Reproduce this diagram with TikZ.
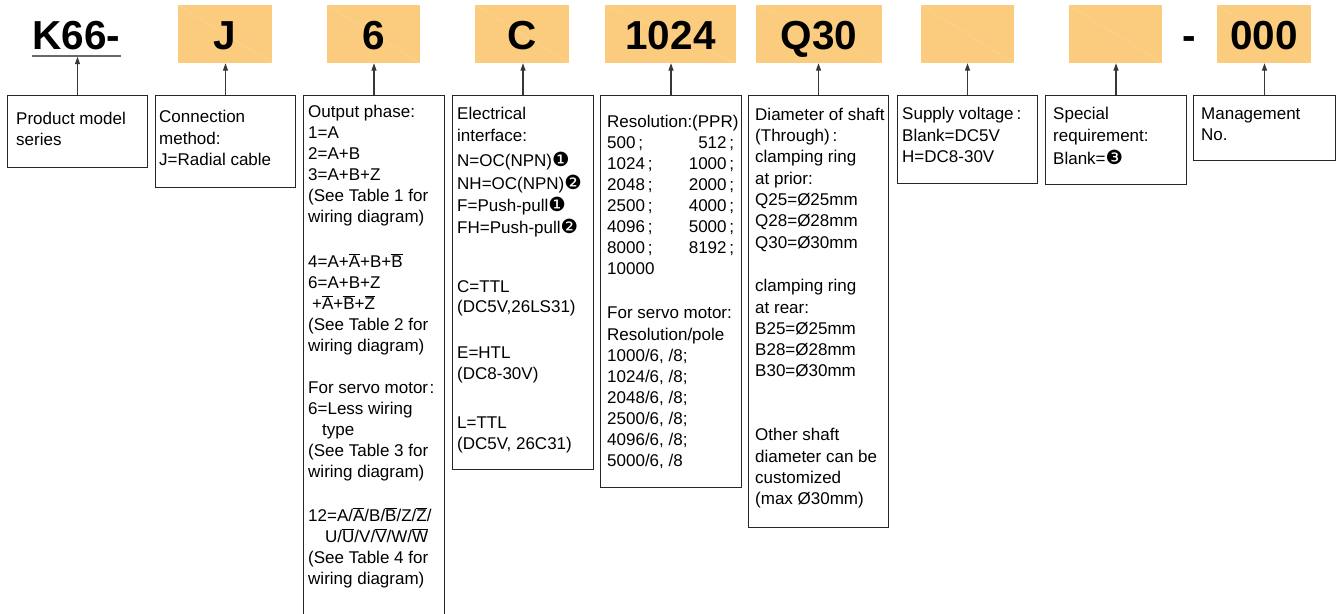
\documentclass[tikz,border=0pt]{standalone}
\usepackage{fontspec}
\setmainfont{Liberation Sans}
\newfontfamily\djv{DejaVu Sans}
\usetikzlibrary{arrows.meta}
\definecolor{boxfill}{RGB}{252,204,126}
\definecolor{diagc}{RGB}{252,214,152}
\definecolor{arrowgray}{RGB}{55,55,55}
\definecolor{ulinegray}{RGB}{105,105,105}
\newcommand\ovl[1]{\ensuremath{\overline{\mbox{#1}}}}
\newcommand\cn[1]{{\djv\fontsize{19.5}{19.5}\selectfont #1}}
\newcommand\fst{\rule{0pt}{14pt}}
\newcommand\rr[2]{\hbox to 131pt{#1\,;\hfill #2\,;\hspace{4pt}}}
\tikzset{
  codebox/.style={fill=boxfill, minimum width=#1, minimum height=58pt, inner sep=0pt,
    text height=30pt, text depth=0pt,
    font=\fontsize{40.5}{40}\selectfont\bfseries,
    path picture={\draw[diagc, line width=0.4pt] (path picture bounding box.north west) -- (path picture bounding box.south east);}},
  title/.style={inner sep=0pt, anchor=base, font=\fontsize{40.5}{40}\selectfont\bfseries},
  infobox/.style={draw=black!85, line width=1pt, fill=white, anchor=north west, inner sep=0pt},
  txt/.style={anchor=north west, inner sep=0pt, align=left, font=\fontsize{17}{#1}\selectfont},
  txt/.default=21pt,
  arr/.style={draw=arrowgray, line width=1.2pt, -{Triangle[length=7.5pt,width=5pt]}},
}
\begin{document}
\begin{tikzpicture}[x=1pt,y=-1pt]
\useasboundingbox (0,0) rectangle (1338,613);
\fill[white] (0,0) rectangle (1338,613);
\clip (0,0) rectangle (1338,613);

% ---- top row
\node[title] (k66) at (76.5,49.5) {K66-};
\coordinate (k66ul) at ([yshift=-6.2pt]k66.base west);
\coordinate (k66ur) at ([yshift=-6.2pt]k66.base east);
\coordinate (k66u) at ([yshift=-7.2pt]k66.base);
\draw[ulinegray, line width=2pt] (k66ul) -- (k66ur);

\node[codebox=94pt]  (bJ)   at (225,34)   {J};
\node[codebox=93pt]  (b6)   at (373.5,34) {6};
\node[codebox=94pt]  (bC)   at (522,34)   {C};
\node[codebox=131pt] (bres) at (670.5,34) {1024};
\node[codebox=126pt] (bdia) at (819,34)   {Q30};
\node[codebox=93pt]  (bsup) at (967.5,34) {};
\node[codebox=93pt]  (bspe) at (1115.5,34){};
\node[codebox=94pt]  (bman) at (1264,34)  {000};
\node[title] (dash) at (1189,49.5) {-};

% ---- lower boxes
\node[infobox, minimum width=140pt, minimum height=72pt]  (pm) at (7,95)    {};
\node[infobox, minimum width=140pt, minimum height=92pt]  (cm) at (155,95)  {};
\node[infobox, minimum width=141pt, minimum height=545pt] (op) at (303,95)  {};
\node[infobox, minimum width=141pt, minimum height=374pt] (el) at (452,95)  {};
\node[infobox, minimum width=141pt, minimum height=392pt] (rs) at (600,95)  {};
\node[infobox, minimum width=140pt, minimum height=432pt] (dm) at (748,95)  {};
\node[infobox, minimum width=140pt, minimum height=88pt]  (sv) at (897,95)  {};
\node[infobox, minimum width=141pt, minimum height=89pt]  (sr) at (1045,95) {};
\node[infobox, minimum width=142pt, minimum height=65pt]  (mn) at (1193,95) {};

% ---- arrows
\draw[arr] (pm.north) -- (pm.north |- k66u);
\draw[arr] (cm.north) -- (cm.north |- bJ.south);
\draw[arr] (op.north) -- (op.north |- b6.south);
\draw[arr] (el.north) -- (el.north |- bC.south);
\draw[arr] (rs.north) -- (rs.north |- bres.south);
\draw[arr] (dm.north) -- (dm.north |- bdia.south);
\draw[arr] (sv.north) -- (sv.north |- bsup.south);
\draw[arr] (sr.north) -- (sr.north |- bspe.south);
\draw[arr] (mn.north) -- (mn.north |- bman.south);

% ---- texts
\node[txt=21pt] (tpm) at (16,110) {\fst Product model\\series};
\node[txt=21.2pt] (tcm) at (159,108.7) {\fst Connection\\method:\\J=Radial cable};
\node[txt=21pt] (top) at (308,103) {\fst Output phase:\\1=A\\2=A+B\\3=A+B+Z\\(See Table 1 for\\wiring diagram)\\[24pt]
4=A+\ovl{A}+B+\ovl{B}\\6=A+B+Z\\\hspace*{4pt}+\ovl{A}+\ovl{B}+\ovl{Z}\\(See Table 2 for\\wiring diagram)\\[21pt]
For servo motor\kern1.5pt:\\6=Less wiring\\\hspace*{14pt}type\\(See Table 3 for\\wiring diagram)\\[23pt]
12=A/\ovl{A}/B/\ovl{B}/Z/\ovl{Z}/\\\hspace*{17pt}U/\ovl{U}/V/\ovl{V}/W/\ovl{W}\\(See Table 4 for\\wiring diagram)};
\node[txt=21pt] (tel) at (457,105) {\fst Electrical\\[1.5pt]interface:\\[4pt]N=OC(NPN)\cn{❶}\\[2pt]NH=OC(NPN)\cn{❷}\\[1pt]F=Push-pull\cn{❶}\\[1pt]FH=Push-pull\cn{❷}\\[38pt]
C=TTL\\[-1pt](DC5V,26LS31)\\[25pt]E=HTL\\(DC8-30V)\\[28pt]L=TTL\\(DC5V, 26C31)};
\node[txt=21pt] (trs) at (607,113.3) {\fst Resolution:(PPR)\\\rr{500}{512}\\\rr{1024}{1000}\\\rr{2048}{2000}\\\rr{2500}{4000}\\\rr{4096}{5000}\\\rr{8000}{8192}\\10000\\[23pt]
For servo motor:\\[1pt]Resolution/pole\\1000/6, /8;\\1024/6, /8;\\2048/6, /8;\\2500/6, /8;\\4096/6, /8;\\5000/6, /8};
\node[txt=21.3pt] (tdm) at (755,106) {\fst Diameter of shaft\\(Through)\,:\\clamping ring\\at prior:\\Q25=Ø25mm\\Q28=Ø28mm\\Q30=Ø30mm\\[22.4pt]
clamping ring\\at rear:\\B25=Ø25mm\\B28=Ø28mm\\B30=Ø30mm\\[42.7pt]Other shaft\\diameter can be\\customized\\(max Ø30mm)};
\node[txt=21.5pt] (tsv) at (902,105.3) {\fst Supply voltage\,:\\Blank=DC5V\\H=DC8-30V};
\node[txt=22.3pt] (tsr) at (1053,105.3) {\fst Special\\requirement:\\Blank=\cn{❸}};
\node[txt=21.7pt] (tmn) at (1201,105) {\fst Management\\No.};
\end{tikzpicture}
\end{document}
